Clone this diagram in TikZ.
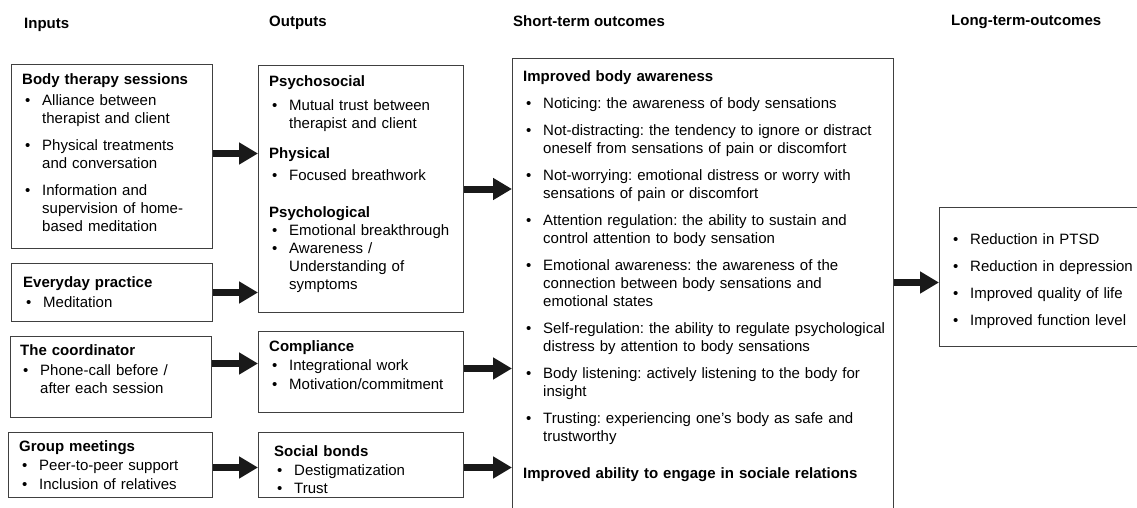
\documentclass[tikz,border=0pt]{standalone}
\usepackage{fontspec}
\setmainfont{Liberation Sans}
\usetikzlibrary{arrows.meta}
\frenchspacing

\newcommand{\ttl}[1]{\noindent\textbf{#1}\par}
\newcommand{\bul}[1]{\noindent\hangindent=20pt\hspace*{3pt}\makebox[17pt][l]{\textbullet}#1\par}
\newcommand{\itm}[2][9pt]{\vspace{#1}\bul{#2}}

\begin{document}
\begin{tikzpicture}[
  x=1pt, y=-1pt,
  every node/.style={font=\fontsize{15pt}{18pt}\selectfont},
  box/.style={draw=black!75, line width=1pt, anchor=north west, inner sep=0pt},
  txt/.style={anchor=base west, inner sep=0pt, align=left, text width=#1},
  head/.style={anchor=base west, inner sep=0pt, font=\fontsize{15pt}{18pt}\selectfont\bfseries},
  fat/.style={draw=black!90, line width=7pt, -{Triangle[length=19pt, width=21pt]}},
]

  \clip (0,0) rectangle (1137,507);

  % column headers
  \node[head] (hin) at (24,28) {Inputs};
  \node[head] (hout) at (269,26) {Outputs};
  \node[head] (hshort) at (513,26) {Short-term outcomes};
  \node[head] (hlong) at (951,25) {Long-term-outcomes};

  % inputs
  \node[box, minimum width=201pt, minimum height=184pt] (body) at (11,64) {};
  \node[box, minimum width=201pt, minimum height=58pt] (daily) at (11,263) {};
  \node[box, minimum width=201pt, minimum height=81pt] (coord) at (10,336) {};
  \node[box, minimum width=204pt, minimum height=65pt] (group) at (8,432) {};

  \node[txt=190pt] (bodytxt) at ([xshift=11pt, yshift=-20pt]body.north west) {%
    \ttl{Body therapy sessions}
    \itm[3pt]{Alliance between\newline therapist and client}
    \itm{Physical treatments\newline and conversation}
    \itm{Information and\newline supervision of home-\newline based meditation}};
  \node[txt=190pt] (dailytxt) at ([xshift=12pt, yshift=-24pt]daily.north west) {%
    \ttl{Everyday practice}
    \itm[2pt]{Meditation}};
  \node[txt=190pt] (coordtxt) at ([xshift=10pt, yshift=-19pt]coord.north west) {%
    \ttl{The coordinator}
    \itm[2pt]{Phone-call before /\newline after each session}};
  \node[txt=190pt] (grouptxt) at ([xshift=11pt, yshift=-19pt]group.north west) {%
    \ttl{Group meetings}
    \itm[1pt]{Peer-to-peer support}
    \itm[1pt]{Inclusion of relatives}};

  % outputs
  \node[box, minimum width=205pt, minimum height=247pt] (psy) at (258,65) {};
  \node[box, minimum width=205pt, minimum height=81pt] (comp) at (258,331) {};
  \node[box, minimum width=205pt, minimum height=65pt] (social) at (258,432) {};

  \node[txt=195pt] (psytxt) at ([xshift=11pt, yshift=-21pt]psy.north west) {%
    \ttl{Psychosocial}
    \itm[6pt]{Mutual trust between\newline therapist and client}
    \vspace{12pt}\ttl{Physical}
    \itm[4pt]{Focused breathwork}
    \vspace{19pt}\ttl{Psychological}
    \itm[0pt]{Emotional breakthrough}
    \itm[0pt]{Awareness /\newline Understanding of\newline symptoms}};
  \node[txt=195pt] (comptxt) at ([xshift=11pt, yshift=-20pt]comp.north west) {%
    \ttl{Compliance}
    \itm[1pt]{Integrational work}
    \itm[1pt]{Motivation/commitment}};
  \node[txt=190pt] (socialtxt) at ([xshift=16pt, yshift=-24pt]social.north west) {%
    \ttl{Social bonds}
    \itm[1pt]{Destigmatization}
    \itm[0pt]{Trust}};

  % outcomes
  \node[box, minimum width=381pt, minimum height=470pt] (short) at (512,58) {};
  \node[box, minimum width=220pt, minimum height=139pt] (long) at (939,207) {};

  \node[txt=370pt] (shorttxt) at ([xshift=11pt, yshift=-23pt]short.north west) {%
    \ttl{Improved body awareness}
    \itm{Noticing: the awareness of body sensations}
    \itm{Not-distracting: the tendency to ignore or distract\newline oneself from sensations of pain or discomfort}
    \itm{Not-worrying: emotional distress or worry with\newline sensations of pain or discomfort}
    \itm{Attention regulation: the ability to sustain and\newline control attention to body sensation}
    \itm{Emotional awareness: the awareness of the\newline connection between body sensations and\newline emotional states}
    \itm{Self-regulation: the ability to regulate psychological\newline distress by attention to body sensations}
    \itm{Body listening: actively listening to the body for\newline insight}
    \itm{Trusting: experiencing one’s body as safe and\newline trustworthy}
    \vspace{19pt}\ttl{Improved ability to engage in sociale relations}};
  \node[txt=200pt] (longtxt) at ([xshift=11pt, yshift=-37pt]long.north west) {%
    \bul{Reduction in PTSD}
    \itm{Reduction in depression}
    \itm{Improved quality of life}
    \itm{Improved function level}};

  % arrows
  \coordinate (a1) at ([yshift=3pt]body.east);
  \coordinate (a2) at (daily.east);
  \coordinate (a3) at ([yshift=13.5pt]coord.east);
  \coordinate (a4) at ([yshift=-2.5pt]group.east);
  \coordinate (a5) at (psy.east);
  \coordinate (a6) at ([yshift=3.5pt]comp.east);
  \coordinate (a7) at ([yshift=-2.5pt]social.east);
  \coordinate (a8) at ([yshift=-5.5pt]long.west);

  \draw[fat] (a1) -- (a1 -| psy.west);
  \draw[fat] (a2) -- (a2 -| psy.west);
  \draw[fat] (a3) -- (a3 -| comp.west);
  \draw[fat] (a4) -- (a4 -| social.west);
  \draw[fat] (a5) -- (a5 -| short.west);
  \draw[fat] (a6) -- (a6 -| short.west);
  \draw[fat] (a7) -- (a7 -| short.west);
  \draw[fat] (a8 -| short.east) -- (a8);
\end{tikzpicture}
\end{document}
